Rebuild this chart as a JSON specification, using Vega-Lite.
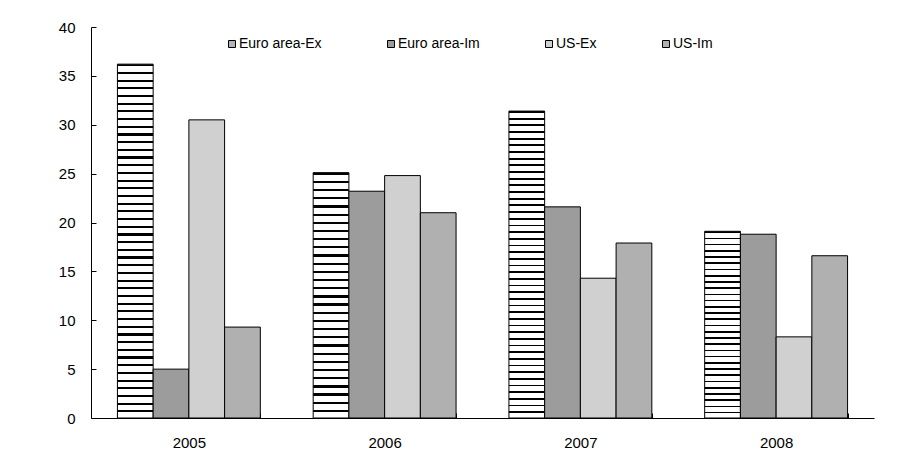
{
  "$schema": "https://vega.github.io/schema/vega-lite/v6.json",
  "width": 783,
  "height": 391,
  "autosize": {"type": "none"},
  "padding": {"left": 91, "top": 27, "right": 24, "bottom": 38},
  "background": "white",
  "config": {"view": {"stroke": null}, "font": "Liberation Sans"},
  "data": {
    "values": [
      {"year": "2005", "series": "Euro area-Ex", "value": 36.2},
      {"year": "2005", "series": "Euro area-Im", "value": 5.0},
      {"year": "2005", "series": "US-Ex", "value": 30.5},
      {"year": "2005", "series": "US-Im", "value": 9.3},
      {"year": "2006", "series": "Euro area-Ex", "value": 25.1},
      {"year": "2006", "series": "Euro area-Im", "value": 23.2},
      {"year": "2006", "series": "US-Ex", "value": 24.8},
      {"year": "2006", "series": "US-Im", "value": 21.0},
      {"year": "2007", "series": "Euro area-Ex", "value": 31.4},
      {"year": "2007", "series": "Euro area-Im", "value": 21.6},
      {"year": "2007", "series": "US-Ex", "value": 14.3},
      {"year": "2007", "series": "US-Im", "value": 17.9},
      {"year": "2008", "series": "Euro area-Ex", "value": 19.1},
      {"year": "2008", "series": "Euro area-Im", "value": 18.8},
      {"year": "2008", "series": "US-Ex", "value": 8.3},
      {"year": "2008", "series": "US-Im", "value": 16.6}
    ]
  },
  "mark": {"type": "bar", "stroke": "black", "strokeWidth": 1},
  "encoding": {
    "x": {
      "field": "year",
      "type": "nominal",
      "scale": {"paddingInner": 0.27, "paddingOuter": 0.135},
      "axis": {
        "title": null,
        "labelAngle": 0,
        "domainColor": "black",
        "tickColor": "black",
        "tickBand": "extent",
        "tickSize": -5,
        "labelFontSize": 15,
        "labelColor": "black",
        "labelPadding": 22
      }
    },
    "xOffset": {
      "field": "series",
      "type": "nominal",
      "sort": ["Euro area-Ex", "Euro area-Im", "US-Ex", "US-Im"],
      "scale": {"paddingInner": 0, "paddingOuter": 0}
    },
    "y": {
      "field": "value",
      "type": "quantitative",
      "scale": {"domain": [0, 40]},
      "axis": {
        "title": null,
        "values": [0, 5, 10, 15, 20, 25, 30, 35, 40],
        "grid": false,
        "domainColor": "black",
        "tickColor": "black",
        "tickSize": -5,
        "labelFontSize": 15,
        "labelColor": "black",
        "labelPadding": 21
      }
    },
    "fill": {
      "field": "series",
      "type": "nominal",
      "scale": {
        "domain": ["Euro area-Ex", "Euro area-Im", "US-Ex", "US-Im"],
        "range": ["#b4b4b4", "#9c9c9c", "#d0d0d0", "#b0b0b0"]
      },
      "legend": {
        "orient": "none",
        "direction": "horizontal",
        "columns": 4,
        "legendX": 134,
        "legendY": 10,
        "title": null,
        "symbolType": "square",
        "symbolSize": 49,
        "symbolStrokeColor": "black",
        "symbolStrokeWidth": 1,
        "labelFontSize": 14,
        "labelColor": "black",
        "labelOffset": 0,
        "columnPadding": 62
      },
      "condition": [
        {
          "test": "datum.series === 'Euro area-Ex' && (datum.year === '2005' || datum.year === '2007')",
          "value": {
            "gradient": "linear", "x1": 0, "y1": 0, "x2": 0, "y2": 1,
            "stops": [
              {"offset": 0, "color": "#000"}, {"offset": 0.006, "color": "#000"}, {"offset": 0.006, "color": "#fff"}, {"offset": 0.0217, "color": "#fff"},
              {"offset": 0.0217, "color": "#000"}, {"offset": 0.0277, "color": "#000"}, {"offset": 0.0277, "color": "#fff"}, {"offset": 0.0435, "color": "#fff"},
              {"offset": 0.0435, "color": "#000"}, {"offset": 0.0495, "color": "#000"}, {"offset": 0.0495, "color": "#fff"}, {"offset": 0.0652, "color": "#fff"},
              {"offset": 0.0652, "color": "#000"}, {"offset": 0.0712, "color": "#000"}, {"offset": 0.0712, "color": "#fff"}, {"offset": 0.087, "color": "#fff"},
              {"offset": 0.087, "color": "#000"}, {"offset": 0.093, "color": "#000"}, {"offset": 0.093, "color": "#fff"}, {"offset": 0.1087, "color": "#fff"},
              {"offset": 0.1087, "color": "#000"}, {"offset": 0.1147, "color": "#000"}, {"offset": 0.1147, "color": "#fff"}, {"offset": 0.1304, "color": "#fff"},
              {"offset": 0.1304, "color": "#000"}, {"offset": 0.1364, "color": "#000"}, {"offset": 0.1364, "color": "#fff"}, {"offset": 0.1522, "color": "#fff"},
              {"offset": 0.1522, "color": "#000"}, {"offset": 0.1582, "color": "#000"}, {"offset": 0.1582, "color": "#fff"}, {"offset": 0.1739, "color": "#fff"},
              {"offset": 0.1739, "color": "#000"}, {"offset": 0.1799, "color": "#000"}, {"offset": 0.1799, "color": "#fff"}, {"offset": 0.1957, "color": "#fff"},
              {"offset": 0.1957, "color": "#000"}, {"offset": 0.2017, "color": "#000"}, {"offset": 0.2017, "color": "#fff"}, {"offset": 0.2174, "color": "#fff"},
              {"offset": 0.2174, "color": "#000"}, {"offset": 0.2234, "color": "#000"}, {"offset": 0.2234, "color": "#fff"}, {"offset": 0.2391, "color": "#fff"},
              {"offset": 0.2391, "color": "#000"}, {"offset": 0.2451, "color": "#000"}, {"offset": 0.2451, "color": "#fff"}, {"offset": 0.2609, "color": "#fff"},
              {"offset": 0.2609, "color": "#000"}, {"offset": 0.2669, "color": "#000"}, {"offset": 0.2669, "color": "#fff"}, {"offset": 0.2826, "color": "#fff"},
              {"offset": 0.2826, "color": "#000"}, {"offset": 0.2886, "color": "#000"}, {"offset": 0.2886, "color": "#fff"}, {"offset": 0.3043, "color": "#fff"},
              {"offset": 0.3043, "color": "#000"}, {"offset": 0.3103, "color": "#000"}, {"offset": 0.3103, "color": "#fff"}, {"offset": 0.3261, "color": "#fff"},
              {"offset": 0.3261, "color": "#000"}, {"offset": 0.3321, "color": "#000"}, {"offset": 0.3321, "color": "#fff"}, {"offset": 0.3478, "color": "#fff"},
              {"offset": 0.3478, "color": "#000"}, {"offset": 0.3538, "color": "#000"}, {"offset": 0.3538, "color": "#fff"}, {"offset": 0.3696, "color": "#fff"},
              {"offset": 0.3696, "color": "#000"}, {"offset": 0.3756, "color": "#000"}, {"offset": 0.3756, "color": "#fff"}, {"offset": 0.3913, "color": "#fff"},
              {"offset": 0.3913, "color": "#000"}, {"offset": 0.3973, "color": "#000"}, {"offset": 0.3973, "color": "#fff"}, {"offset": 0.413, "color": "#fff"},
              {"offset": 0.413, "color": "#000"}, {"offset": 0.419, "color": "#000"}, {"offset": 0.419, "color": "#fff"}, {"offset": 0.4348, "color": "#fff"},
              {"offset": 0.4348, "color": "#000"}, {"offset": 0.4408, "color": "#000"}, {"offset": 0.4408, "color": "#fff"}, {"offset": 0.4565, "color": "#fff"},
              {"offset": 0.4565, "color": "#000"}, {"offset": 0.4625, "color": "#000"}, {"offset": 0.4625, "color": "#fff"}, {"offset": 0.4783, "color": "#fff"},
              {"offset": 0.4783, "color": "#000"}, {"offset": 0.4843, "color": "#000"}, {"offset": 0.4843, "color": "#fff"}, {"offset": 0.5, "color": "#fff"},
              {"offset": 0.5, "color": "#000"}, {"offset": 0.506, "color": "#000"}, {"offset": 0.506, "color": "#fff"}, {"offset": 0.5217, "color": "#fff"},
              {"offset": 0.5217, "color": "#000"}, {"offset": 0.5277, "color": "#000"}, {"offset": 0.5277, "color": "#fff"}, {"offset": 0.5435, "color": "#fff"},
              {"offset": 0.5435, "color": "#000"}, {"offset": 0.5495, "color": "#000"}, {"offset": 0.5495, "color": "#fff"}, {"offset": 0.5652, "color": "#fff"},
              {"offset": 0.5652, "color": "#000"}, {"offset": 0.5712, "color": "#000"}, {"offset": 0.5712, "color": "#fff"}, {"offset": 0.587, "color": "#fff"},
              {"offset": 0.587, "color": "#000"}, {"offset": 0.593, "color": "#000"}, {"offset": 0.593, "color": "#fff"}, {"offset": 0.6087, "color": "#fff"},
              {"offset": 0.6087, "color": "#000"}, {"offset": 0.6147, "color": "#000"}, {"offset": 0.6147, "color": "#fff"}, {"offset": 0.6304, "color": "#fff"},
              {"offset": 0.6304, "color": "#000"}, {"offset": 0.6364, "color": "#000"}, {"offset": 0.6364, "color": "#fff"}, {"offset": 0.6522, "color": "#fff"},
              {"offset": 0.6522, "color": "#000"}, {"offset": 0.6582, "color": "#000"}, {"offset": 0.6582, "color": "#fff"}, {"offset": 0.6739, "color": "#fff"},
              {"offset": 0.6739, "color": "#000"}, {"offset": 0.6799, "color": "#000"}, {"offset": 0.6799, "color": "#fff"}, {"offset": 0.6957, "color": "#fff"},
              {"offset": 0.6957, "color": "#000"}, {"offset": 0.7017, "color": "#000"}, {"offset": 0.7017, "color": "#fff"}, {"offset": 0.7174, "color": "#fff"},
              {"offset": 0.7174, "color": "#000"}, {"offset": 0.7234, "color": "#000"}, {"offset": 0.7234, "color": "#fff"}, {"offset": 0.7391, "color": "#fff"},
              {"offset": 0.7391, "color": "#000"}, {"offset": 0.7451, "color": "#000"}, {"offset": 0.7451, "color": "#fff"}, {"offset": 0.7609, "color": "#fff"},
              {"offset": 0.7609, "color": "#000"}, {"offset": 0.7669, "color": "#000"}, {"offset": 0.7669, "color": "#fff"}, {"offset": 0.7826, "color": "#fff"},
              {"offset": 0.7826, "color": "#000"}, {"offset": 0.7886, "color": "#000"}, {"offset": 0.7886, "color": "#fff"}, {"offset": 0.8043, "color": "#fff"},
              {"offset": 0.8043, "color": "#000"}, {"offset": 0.8103, "color": "#000"}, {"offset": 0.8103, "color": "#fff"}, {"offset": 0.8261, "color": "#fff"},
              {"offset": 0.8261, "color": "#000"}, {"offset": 0.8321, "color": "#000"}, {"offset": 0.8321, "color": "#fff"}, {"offset": 0.8478, "color": "#fff"},
              {"offset": 0.8478, "color": "#000"}, {"offset": 0.8538, "color": "#000"}, {"offset": 0.8538, "color": "#fff"}, {"offset": 0.8696, "color": "#fff"},
              {"offset": 0.8696, "color": "#000"}, {"offset": 0.8756, "color": "#000"}, {"offset": 0.8756, "color": "#fff"}, {"offset": 0.8913, "color": "#fff"},
              {"offset": 0.8913, "color": "#000"}, {"offset": 0.8973, "color": "#000"}, {"offset": 0.8973, "color": "#fff"}, {"offset": 0.913, "color": "#fff"},
              {"offset": 0.913, "color": "#000"}, {"offset": 0.919, "color": "#000"}, {"offset": 0.919, "color": "#fff"}, {"offset": 0.9348, "color": "#fff"},
              {"offset": 0.9348, "color": "#000"}, {"offset": 0.9408, "color": "#000"}, {"offset": 0.9408, "color": "#fff"}, {"offset": 0.9565, "color": "#fff"},
              {"offset": 0.9565, "color": "#000"}, {"offset": 0.9625, "color": "#000"}, {"offset": 0.9625, "color": "#fff"}, {"offset": 0.9783, "color": "#fff"},
              {"offset": 0.9783, "color": "#000"}, {"offset": 0.9843, "color": "#000"}, {"offset": 0.9843, "color": "#fff"}, {"offset": 1, "color": "#fff"}
            ]
          }
        },
        {
          "test": "datum.series === 'Euro area-Ex'",
          "value": {
            "gradient": "linear", "x1": 0, "y1": 0, "x2": 0, "y2": 1,
            "stops": [
              {"offset": 0, "color": "#000"}, {"offset": 0.009, "color": "#000"}, {"offset": 0.009, "color": "#fff"}, {"offset": 0.0333, "color": "#fff"},
              {"offset": 0.0333, "color": "#000"}, {"offset": 0.0423, "color": "#000"}, {"offset": 0.0423, "color": "#fff"}, {"offset": 0.0667, "color": "#fff"},
              {"offset": 0.0667, "color": "#000"}, {"offset": 0.0757, "color": "#000"}, {"offset": 0.0757, "color": "#fff"}, {"offset": 0.1, "color": "#fff"},
              {"offset": 0.1, "color": "#000"}, {"offset": 0.109, "color": "#000"}, {"offset": 0.109, "color": "#fff"}, {"offset": 0.1333, "color": "#fff"},
              {"offset": 0.1333, "color": "#000"}, {"offset": 0.1423, "color": "#000"}, {"offset": 0.1423, "color": "#fff"}, {"offset": 0.1667, "color": "#fff"},
              {"offset": 0.1667, "color": "#000"}, {"offset": 0.1757, "color": "#000"}, {"offset": 0.1757, "color": "#fff"}, {"offset": 0.2, "color": "#fff"},
              {"offset": 0.2, "color": "#000"}, {"offset": 0.209, "color": "#000"}, {"offset": 0.209, "color": "#fff"}, {"offset": 0.2333, "color": "#fff"},
              {"offset": 0.2333, "color": "#000"}, {"offset": 0.2423, "color": "#000"}, {"offset": 0.2423, "color": "#fff"}, {"offset": 0.2667, "color": "#fff"},
              {"offset": 0.2667, "color": "#000"}, {"offset": 0.2757, "color": "#000"}, {"offset": 0.2757, "color": "#fff"}, {"offset": 0.3, "color": "#fff"},
              {"offset": 0.3, "color": "#000"}, {"offset": 0.309, "color": "#000"}, {"offset": 0.309, "color": "#fff"}, {"offset": 0.3333, "color": "#fff"},
              {"offset": 0.3333, "color": "#000"}, {"offset": 0.3423, "color": "#000"}, {"offset": 0.3423, "color": "#fff"}, {"offset": 0.3667, "color": "#fff"},
              {"offset": 0.3667, "color": "#000"}, {"offset": 0.3757, "color": "#000"}, {"offset": 0.3757, "color": "#fff"}, {"offset": 0.4, "color": "#fff"},
              {"offset": 0.4, "color": "#000"}, {"offset": 0.409, "color": "#000"}, {"offset": 0.409, "color": "#fff"}, {"offset": 0.4333, "color": "#fff"},
              {"offset": 0.4333, "color": "#000"}, {"offset": 0.4423, "color": "#000"}, {"offset": 0.4423, "color": "#fff"}, {"offset": 0.4667, "color": "#fff"},
              {"offset": 0.4667, "color": "#000"}, {"offset": 0.4757, "color": "#000"}, {"offset": 0.4757, "color": "#fff"}, {"offset": 0.5, "color": "#fff"},
              {"offset": 0.5, "color": "#000"}, {"offset": 0.509, "color": "#000"}, {"offset": 0.509, "color": "#fff"}, {"offset": 0.5333, "color": "#fff"},
              {"offset": 0.5333, "color": "#000"}, {"offset": 0.5423, "color": "#000"}, {"offset": 0.5423, "color": "#fff"}, {"offset": 0.5667, "color": "#fff"},
              {"offset": 0.5667, "color": "#000"}, {"offset": 0.5757, "color": "#000"}, {"offset": 0.5757, "color": "#fff"}, {"offset": 0.6, "color": "#fff"},
              {"offset": 0.6, "color": "#000"}, {"offset": 0.609, "color": "#000"}, {"offset": 0.609, "color": "#fff"}, {"offset": 0.6333, "color": "#fff"},
              {"offset": 0.6333, "color": "#000"}, {"offset": 0.6423, "color": "#000"}, {"offset": 0.6423, "color": "#fff"}, {"offset": 0.6667, "color": "#fff"},
              {"offset": 0.6667, "color": "#000"}, {"offset": 0.6757, "color": "#000"}, {"offset": 0.6757, "color": "#fff"}, {"offset": 0.7, "color": "#fff"},
              {"offset": 0.7, "color": "#000"}, {"offset": 0.709, "color": "#000"}, {"offset": 0.709, "color": "#fff"}, {"offset": 0.7333, "color": "#fff"},
              {"offset": 0.7333, "color": "#000"}, {"offset": 0.7423, "color": "#000"}, {"offset": 0.7423, "color": "#fff"}, {"offset": 0.7667, "color": "#fff"},
              {"offset": 0.7667, "color": "#000"}, {"offset": 0.7757, "color": "#000"}, {"offset": 0.7757, "color": "#fff"}, {"offset": 0.8, "color": "#fff"},
              {"offset": 0.8, "color": "#000"}, {"offset": 0.809, "color": "#000"}, {"offset": 0.809, "color": "#fff"}, {"offset": 0.8333, "color": "#fff"},
              {"offset": 0.8333, "color": "#000"}, {"offset": 0.8423, "color": "#000"}, {"offset": 0.8423, "color": "#fff"}, {"offset": 0.8667, "color": "#fff"},
              {"offset": 0.8667, "color": "#000"}, {"offset": 0.8757, "color": "#000"}, {"offset": 0.8757, "color": "#fff"}, {"offset": 0.9, "color": "#fff"},
              {"offset": 0.9, "color": "#000"}, {"offset": 0.909, "color": "#000"}, {"offset": 0.909, "color": "#fff"}, {"offset": 0.9333, "color": "#fff"},
              {"offset": 0.9333, "color": "#000"}, {"offset": 0.9423, "color": "#000"}, {"offset": 0.9423, "color": "#fff"}, {"offset": 0.9667, "color": "#fff"},
              {"offset": 0.9667, "color": "#000"}, {"offset": 0.9757, "color": "#000"}, {"offset": 0.9757, "color": "#fff"}, {"offset": 1, "color": "#fff"}
            ]
          }
        }
      ]
    }
  }
}
